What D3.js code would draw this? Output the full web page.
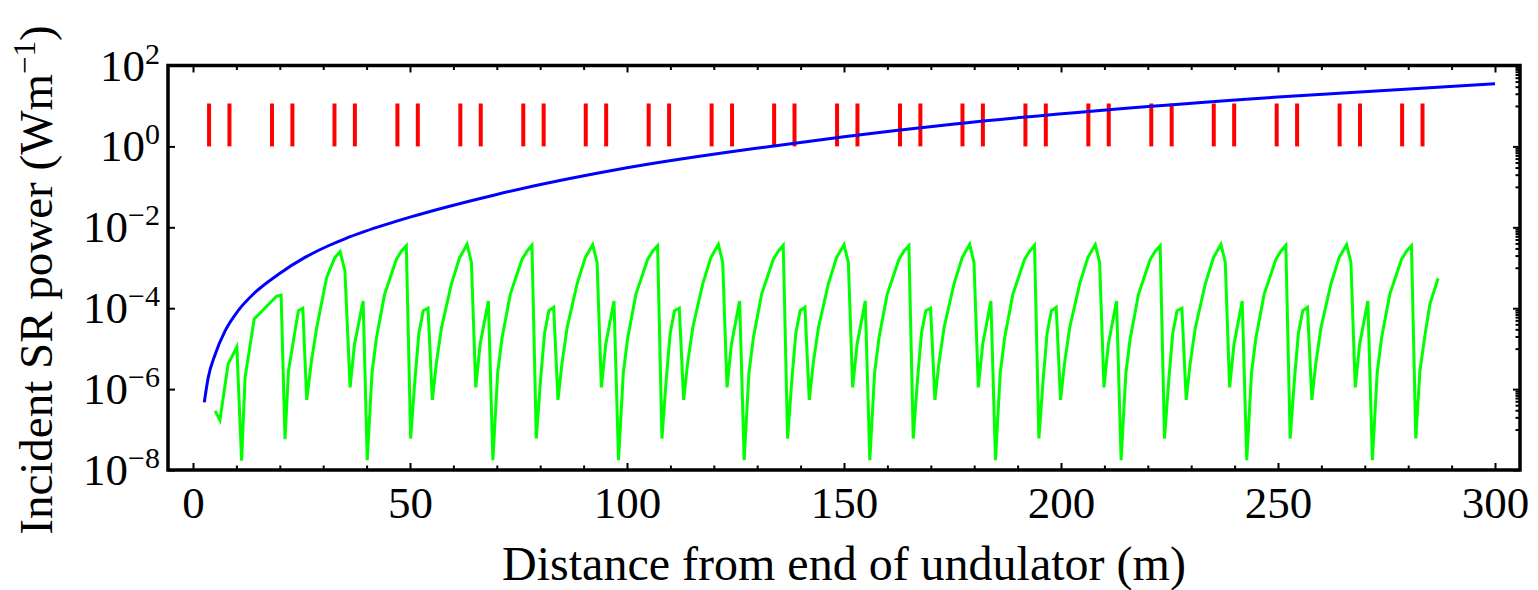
<!DOCTYPE html>
<html>
  <head>
    <title></title>
    <meta charset="UTF-8" />
    <script src="https://cdn.jsdelivr.net/npm/d3@7"></script>
    <style>
      body { margin: 0; background: #fff; }
      svg { display: block; }
    </style>
  </head>
  <body>
    <svg></svg>
    <script>
      // 1. data
      const blueDist = [2.6, 3.5, 5.1, 7.4, 10.4, 14.3, 19.7, 25.8, 31.2, 35.0, 39.6, 50, 70, 100, 133, 150, 175, 209, 250, 300]
      const bluePower = [4.7e-7, 1.9e-6, 7.2e-6, 2.75e-5, 8.7e-5, 2.45e-4, 6.9e-4, 1.8e-3, 3.5e-3, 5.2e-3, 7.9e-3, 1.78e-2, 6.5e-2, 0.295, 1.0, 1.74, 3.55, 7.76, 16.6, 35.5]

      const greenDist = [
        5.1, 6.2, 8.1, 10.1, 11.2, 12.0, 14.1, 19.3, 20.3, 21.2, 22.0, 23.5, 24.3, 25.3, 26.2, 27.3, 28.5, 30.8, 32.7, 33.9, 35.0, 36.2, 37.2, 39.2,
        40.15, 41.25, 42.25, 44.15, 46.85, 48.05, 49.15, 50.15, 51.15, 52.05, 53.05, 54.15, 55.15, 56.05, 57.25, 59.55, 61.45, 63.15, 64.15, 65.15, 66.15, 68.05,
        69.1, 70.2, 71.2, 73.1, 75.8, 77.0, 78.1, 79.1, 80.1, 81.0, 82.0, 83.1, 84.1, 85.0, 86.2, 88.5, 90.4, 92.1, 93.1, 94.1, 95.1, 97.0,
        98.05, 99.15, 100.15, 102.05, 104.75, 105.95, 107.05, 108.05, 109.05, 109.95, 110.95, 112.05, 113.05, 113.95, 115.15, 117.45, 119.35, 121.05, 122.05, 123.05, 124.05, 125.95,
        127.0, 128.1, 129.1, 131.0, 133.7, 134.9, 136.0, 137.0, 138.0, 138.9, 139.9, 141.0, 142.0, 142.9, 144.1, 146.4, 148.3, 150.0, 151.0, 152.0, 153.0, 154.9,
        155.95, 157.05, 158.05, 159.95, 162.65, 163.85, 164.95, 165.95, 166.95, 167.85, 168.85, 169.95, 170.95, 171.85, 173.05, 175.35, 177.25, 178.95, 179.95, 180.95, 181.95, 183.85,
        184.9, 186.0, 187.0, 188.9, 191.6, 192.8, 193.9, 194.9, 195.9, 196.8, 197.8, 198.9, 199.9, 200.8, 202.0, 204.3, 206.2, 207.9, 208.9, 209.9, 210.9, 212.8,
        213.85, 214.95, 215.95, 217.85, 220.55, 221.75, 222.85, 223.85, 224.85, 225.75, 226.75, 227.85, 228.85, 229.75, 230.95, 233.25, 235.15, 236.85, 237.85, 238.85, 239.85, 241.75,
        242.8, 243.9, 244.9, 246.8, 249.5, 250.7, 251.8, 252.8, 253.8, 254.7, 255.7, 256.8, 257.8, 258.7, 259.9, 262.2, 264.1, 265.8, 266.8, 267.8, 268.8, 270.7,
        271.75, 272.85, 273.85, 275.75, 278.45, 279.65, 280.75, 281.75, 282.7, 283.9, 285.0, 286.9
      ]
      const greenPower = [
        2.9e-7, 1.7e-7, 4.2e-6, 1.1e-5, 1.7e-8, 1.95e-6, 5.4e-5, 2.0e-4, 2.1e-4, 5.8e-8, 2.8e-6, 2.75e-5, 8.7e-5, 1.0e-4, 5.4e-7, 5.0e-6, 3.3e-5, 5.8e-4, 1.8e-3, 2.5e-3, 8.5e-4, 1.1e-6, 1.26e-5, 1.5e-4,
        1.74e-8, 2.5e-6, 1.8e-5, 2.2e-4, 1.6e-3, 2.6e-3, 3.5e-3, 6.0e-8, 1.8e-6, 2.4e-5, 8.7e-5, 1.0e-4, 5.4e-7, 4.2e-6, 3.3e-5, 4.0e-4, 1.8e-3, 3.8e-3, 1.35e-3, 1.1e-6, 1.26e-5, 1.5e-4,
        1.74e-8, 2.5e-6, 1.8e-5, 2.2e-4, 1.6e-3, 2.6e-3, 3.6e-3, 6.0e-8, 1.8e-6, 2.4e-5, 8.7e-5, 1.05e-4, 5.4e-7, 4.2e-6, 3.3e-5, 4.0e-4, 1.8e-3, 3.7e-3, 1.35e-3, 1.1e-6, 1.26e-5, 1.5e-4,
        1.74e-8, 2.5e-6, 1.8e-5, 2.2e-4, 1.6e-3, 2.6e-3, 3.5e-3, 6.0e-8, 1.8e-6, 2.4e-5, 8.7e-5, 1.0e-4, 5.4e-7, 4.2e-6, 3.3e-5, 4.0e-4, 1.8e-3, 3.8e-3, 1.35e-3, 1.1e-6, 1.26e-5, 1.5e-4,
        1.74e-8, 2.5e-6, 1.8e-5, 2.2e-4, 1.6e-3, 2.6e-3, 3.6e-3, 6.0e-8, 1.8e-6, 2.4e-5, 8.7e-5, 1.05e-4, 5.4e-7, 4.2e-6, 3.3e-5, 4.0e-4, 1.8e-3, 3.7e-3, 1.35e-3, 1.1e-6, 1.26e-5, 1.5e-4,
        1.74e-8, 2.5e-6, 1.8e-5, 2.2e-4, 1.6e-3, 2.6e-3, 3.5e-3, 6.0e-8, 1.8e-6, 2.4e-5, 8.7e-5, 1.0e-4, 5.4e-7, 4.2e-6, 3.3e-5, 4.0e-4, 1.8e-3, 3.8e-3, 1.35e-3, 1.1e-6, 1.26e-5, 1.5e-4,
        1.74e-8, 2.5e-6, 1.8e-5, 2.2e-4, 1.6e-3, 2.6e-3, 3.6e-3, 6.0e-8, 1.8e-6, 2.4e-5, 8.7e-5, 1.05e-4, 5.4e-7, 4.2e-6, 3.3e-5, 4.0e-4, 1.8e-3, 3.7e-3, 1.35e-3, 1.1e-6, 1.26e-5, 1.5e-4,
        1.74e-8, 2.5e-6, 1.8e-5, 2.2e-4, 1.6e-3, 2.6e-3, 3.5e-3, 6.0e-8, 1.8e-6, 2.4e-5, 8.7e-5, 1.0e-4, 5.4e-7, 4.2e-6, 3.3e-5, 4.0e-4, 1.8e-3, 3.8e-3, 1.35e-3, 1.1e-6, 1.26e-5, 1.5e-4,
        1.74e-8, 2.5e-6, 1.8e-5, 2.2e-4, 1.6e-3, 2.6e-3, 3.6e-3, 6.0e-8, 1.8e-6, 2.4e-5, 8.7e-5, 1.05e-4, 5.4e-7, 4.2e-6, 3.3e-5, 4.0e-4, 1.8e-3, 3.7e-3, 1.35e-3, 1.1e-6, 1.26e-5, 1.5e-4,
        1.74e-8, 2.5e-6, 1.8e-5, 2.2e-4, 1.6e-3, 2.6e-3, 3.5e-3, 6.0e-8, 2.8e-6, 2.3e-5, 1.26e-4, 5.5e-4
      ]

      // red markers: positions along the line, each drawn from 1 to ~11.5 W/m
      const redDist = [
        3.7, 8.4, 18.2, 22.9, 32.6, 37.3, 47.1, 51.8, 61.6, 66.3,
        76.1, 80.8, 90.5, 95.2, 105.0, 109.7, 119.5, 124.2, 133.9, 138.6,
        148.4, 153.1, 162.9, 167.6, 177.3, 182.0, 191.8, 196.5, 206.3, 211.0,
        220.8, 225.5, 235.2, 239.9, 249.7, 254.4, 264.2, 268.9, 278.6, 283.3
      ]
      const redSpan = [1, 11.5]

      const xMajorTicks = [0, 50, 100, 150, 200, 250, 300]
      const yMajorExp = [2, 0, -2, -4, -6, -8]

      // 2. layout
      const width = 1538
      const height = 590
      const plot = { left: 168, right: 1520, top: 65.5, bottom: 470 }
      const serif = '"Liberation Serif", "DejaVu Serif", serif'

      const svg = d3
        .select("svg")
        .attr("width", width)
        .attr("height", height)
        .attr("viewBox", [0, 0, width, height])

      // 3. scales
      const x = d3
        .scaleLinear()
        .domain([-5.76, 305.76])
        .range([plot.left, plot.right])

      const y = d3
        .scaleLog()
        .domain([1e-8, 1e2])
        .range([plot.bottom, plot.top])

      const xMinorTicks = d3.range(0, 301, 10).filter((d) => d % 50 !== 0)
      const yMajorTicks = yMajorExp.map((e) => Math.pow(10, e))
      const yMinorTicks = []
      ;[1, -1, -3, -5, -7].forEach((e) => {
        for (let j = 1; j <= 9; j++) yMinorTicks.push(j * Math.pow(10, e))
      })

      // 4. marks
      svg
        .append("g")
        .selectAll("line")
        .data(redDist)
        .join("line")
        .attr("x1", (d) => x(d))
        .attr("x2", (d) => x(d))
        .attr("y1", y(redSpan[0]))
        .attr("y2", y(redSpan[1]))
        .attr("stroke", "#ff0000")
        .attr("stroke-width", 4)

      const green = greenDist.map((d, i) => ({ x: d, y: greenPower[i] }))
      svg
        .append("path")
        .datum(green)
        .attr("fill", "none")
        .attr("stroke", "#00ff00")
        .attr("stroke-width", 3)
        .attr("d", d3.line().x((d) => x(d.x)).y((d) => y(d.y)))

      const blue = blueDist.map((d, i) => ({ x: d, y: bluePower[i] }))
      svg
        .append("path")
        .datum(blue)
        .attr("fill", "none")
        .attr("stroke", "#0000ff")
        .attr("stroke-width", 3)
        .attr(
          "d",
          d3.line().curve(d3.curveMonotoneX).x((d) => x(d.x)).y((d) => y(d.y))
        )

      // 5. frame + ticks (Mathematica style: inward ticks)
      function tickStyle(g) {
        g.select(".domain").remove()
        g.selectAll(".tick line").attr("stroke", "#000").attr("stroke-width", 2)
      }

      const axes = [
        [d3.axisBottom(x).tickValues(xMajorTicks).tickSize(-7), plot.bottom, "x"],
        [d3.axisBottom(x).tickValues(xMinorTicks).tickSize(-4.5).tickFormat(""), plot.bottom, "x"],
        [d3.axisTop(x).tickValues(xMajorTicks).tickSize(-7).tickFormat(""), plot.top, "x"],
        [d3.axisTop(x).tickValues(xMinorTicks).tickSize(-4.5).tickFormat(""), plot.top, "x"],
        [d3.axisLeft(y).tickValues(yMajorTicks).tickSize(-7).tickFormat(""), plot.left, "y"],
        [d3.axisRight(y).tickValues(yMajorTicks).tickSize(-7).tickFormat(""), plot.right, "y"],
        [d3.axisRight(y).tickValues(yMinorTicks).tickSize(-4.5).tickFormat(""), plot.right, "y"],
      ]
      axes.forEach(([axis, pos, dir]) => {
        svg
          .append("g")
          .attr("transform", dir === "x" ? `translate(0,${pos})` : `translate(${pos},0)`)
          .call(axis)
          .call(tickStyle)
      })

      // bottom tick labels
      svg
        .selectAll(".tick text")
        .attr("y", 48)
        .attr("dy", null)
        .attr("font-family", serif)
        .attr("font-size", 45)
        .attr("fill", "#000")

      // left tick labels: 10^n
      svg
        .append("g")
        .attr("font-family", serif)
        .attr("font-size", 45)
        .selectAll("text")
        .data(yMajorExp)
        .join("text")
        .attr("x", 160)
        .attr("y", (d) => y(Math.pow(10, d)) + 15)
        .attr("text-anchor", "end")
        .each(function (d) {
          const t = d3.select(this)
          t.append("tspan").text("10")
          t.append("tspan")
            .attr("dy", -17)
            .attr("font-size", 30)
            .text(d < 0 ? "\u2212" + -d : d)
        })

      svg
        .append("rect")
        .attr("x", plot.left)
        .attr("y", plot.top)
        .attr("width", plot.right - plot.left)
        .attr("height", plot.bottom - plot.top)
        .attr("fill", "none")
        .attr("stroke", "#000")
        .attr("stroke-width", 3.5)

      // 6. axis titles
      svg
        .append("text")
        .attr("x", (plot.left + plot.right) / 2)
        .attr("y", 580)
        .attr("text-anchor", "middle")
        .attr("font-family", serif)
        .attr("font-size", 48)
        .text("Distance from end of undulator (m)")

      const yTitle = svg
        .append("text")
        .attr("transform", "translate(52,280) rotate(-90)")
        .attr("text-anchor", "middle")
        .attr("font-family", serif)
        .attr("font-size", 47)
      yTitle.append("tspan").text("Incident SR power (Wm")
      yTitle.append("tspan").attr("dy", -17).attr("font-size", 31).text("\u22121")
      yTitle.append("tspan").attr("dy", 17).text(")")
    </script>
  </body>
</html>
